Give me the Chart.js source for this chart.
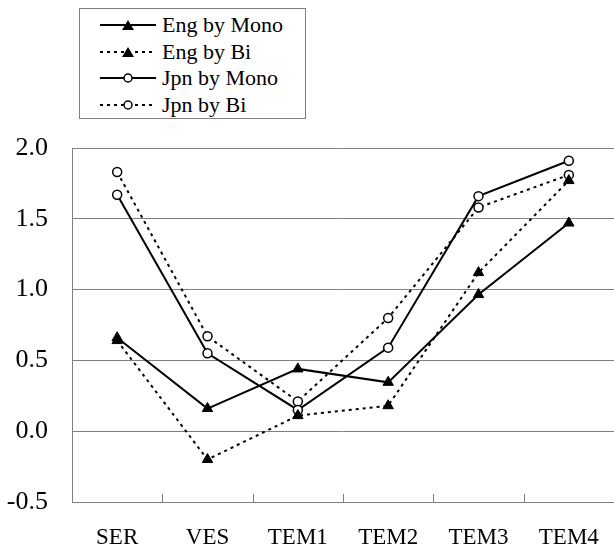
<!DOCTYPE html>
<html>
<head>
<meta charset="utf-8">
<script src="https://cdn.jsdelivr.net/npm/chart.js@4.4.1/dist/chart.umd.min.js"></script>
<style>
  body { margin: 0; background: #fff; }
  #wrap { position: relative; width: 614px; height: 549px; }
  #legend {
    position: absolute; left: 79px; top: 8px; width: 227px; height: 111px;
    border: 1px solid #808080; box-sizing: border-box; background: #fff;
    font-family: 'Liberation Serif', serif; font-size: 22px; color: #000;
    padding-top: 3px;
  }
  .row { height: 26.5px; display: flex; align-items: center; }
  .row svg { margin-left: 20px; margin-right: 6px; }
</style>
</head>
<body>
<div id="wrap">
  <canvas id="chart" width="614" height="549"></canvas>
  <div id="legend"></div>
</div>
<script>
const categories = ['SER', 'VES', 'TEM1', 'TEM2', 'TEM3', 'TEM4'];
const seriesNames = ['Eng by Mono', 'Eng by Bi', 'Jpn by Mono', 'Jpn by Bi'];
const engMono = [0.66, 0.16, 0.44, 0.345, 0.965, 1.47];
const engBi = [0.64, -0.20, 0.11, 0.18, 1.12, 1.77];
const jpnMono = [1.67, 0.55, 0.15, 0.59, 1.66, 1.91];
const jpnBi = [1.83, 0.67, 0.21, 0.80, 1.58, 1.81];
const yTicks = [-0.5, 0.0, 0.5, 1.0, 1.5, 2.0];

const serif = "'Liberation Serif', serif";

const makeSet = (label, data, dotted, tri) => ({
  label: label,
  data: data,
  borderColor: '#000',
  borderWidth: 2,
  borderDash: dotted ? [3, 4] : [],
  pointStyle: tri ? 'triangle' : 'circle',
  pointRadius: tri ? 6 : 4.5,
  pointBackgroundColor: tri ? '#000' : '#fff',
  pointBorderColor: '#000',
  pointBorderWidth: tri ? 1 : 1.5,
  tension: 0
});

// small tick marks between categories, pointing into the plot
const innerTicks = {
  id: 'innerTicks',
  afterDraw(chart) {
    const x = chart.scales.x;
    const ctx = chart.ctx;
    const bottom = chart.chartArea.bottom;
    ctx.save();
    ctx.strokeStyle = '#808080';
    ctx.lineWidth = 1;
    for (let i = 1; i < categories.length; i++) {
      const px = Math.round((x.getPixelForValue(i - 1) + x.getPixelForValue(i)) / 2) + 0.5;
      ctx.beginPath();
      ctx.moveTo(px, bottom);
      ctx.lineTo(px, bottom - 8);
      ctx.stroke();
    }
    ctx.restore();
  }
};

new Chart(document.getElementById('chart'), {
  type: 'line',
  data: {
    labels: categories,
    datasets: [
      makeSet(seriesNames[0], engMono, false, true),
      makeSet(seriesNames[1], engBi, true, true),
      makeSet(seriesNames[2], jpnMono, false, false),
      makeSet(seriesNames[3], jpnBi, true, false)
    ]
  },
  options: {
    responsive: false,
    animation: false,
    layout: { autoPadding: false, padding: { top: 148, left: 0, right: 0, bottom: 0 } },
    plugins: { legend: { display: false }, tooltip: { enabled: false } },
    scales: {
      x: {
        offset: true,
        grid: { display: false },
        border: { display: true, color: '#808080', width: 1 },
        ticks: { color: '#000', padding: 14, maxRotation: 0, font: { family: serif, size: 23 } },
        afterFit: s => { s.height = 47; s.paddingLeft = 0; s.paddingRight = 0; }
      },
      y: {
        min: yTicks[0],
        max: yTicks[yTicks.length - 1],
        afterBuildTicks: s => { s.ticks = yTicks.map(v => ({ value: v })); },
        grid: { color: '#808080', lineWidth: 1, drawTicks: false },
        border: { display: true, color: '#808080', width: 1 },
        ticks: {
          color: '#000', padding: 24,
          font: { family: serif, size: 26 },
          callback: v => v.toFixed(1)
        },
        afterFit: s => { s.width = 72; }
      }
    }
  },
  plugins: [innerTicks]
});

// legend
const legend = document.getElementById('legend');
seriesNames.forEach((name, i) => {
  const dotted = i % 2 === 1;
  const tri = i < 2;
  const dash = dotted ? 'stroke-dasharray="3,4"' : '';
  const marker = tri
    ? '<polygon points="28,1 34,11 22,11" fill="#000"/>'
    : '<circle cx="28" cy="6" r="4" fill="#fff" stroke="#000" stroke-width="1.5"/>';
  const row = document.createElement('div');
  row.className = 'row';
  row.innerHTML = `<svg width="56" height="12"><line x1="0" y1="6" x2="56" y2="6" stroke="#000" stroke-width="2" ${dash}/>${marker}</svg><span>${name}</span>`;
  legend.appendChild(row);
});
</script>
</body>
</html>
